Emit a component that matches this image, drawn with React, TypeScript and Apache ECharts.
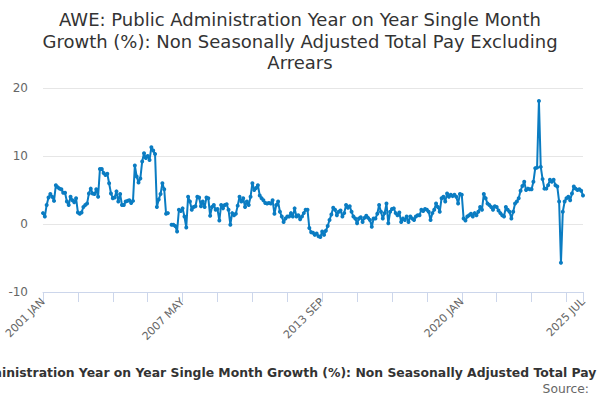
import React, { useEffect, useRef } from "react";
import * as echarts from "echarts";

const TITLE_LINES = [
  "AWE: Public Administration Year on Year Single Month",
  "Growth (%): Non Seasonally Adjusted Total Pay Excluding",
  "Arrears",
];
const SERIES_NAME =
  "AWE: Public Administration Year on Year Single Month Growth (%): Non Seasonally Adjusted Total Pay Excluding Arrears";
const SOURCE_TEXT = "Source:";

const MONTHS = ["JAN", "FEB", "MAR", "APR", "MAY", "JUN", "JUL", "AUG", "SEP", "OCT", "NOV", "DEC"];
const START_YEAR = 2001;

const values2001to2007: (number | null)[] = [
  1.6, 1.1, 2.8, 3.9, 4.4, 4.0, 3.4, 5.7, 5.4, 5.2, 5.1, 4.6,
  4.6, 3.3, 2.8, 4.0, 3.5, 3.2, 3.8, 1.7, 1.5, 1.7, 2.5, 2.8,
  3.0, 4.5, 5.2, 4.5, 4.4, 5.1, 4.0, 8.1, 8.1, 7.5, 7.2, 7.4,
  6.0, 4.5, 3.8, 3.9, 4.8, 3.3, 4.4, 2.8, 2.8, 3.3, 3.4, 3.5,
  3.1, 3.4, 8.6, 7.0, 6.1, 6.7, 9.2, 10.4, 9.7, 10.0, 9.4, 11.3,
  10.8, 10.3, 2.5, 3.6, 4.4, 6.0, 5.1, 1.5, 1.6, null, -0.1, -0.1,
];
const values2007to2013: (number | null)[] = [
  -0.3, -1.1, 2.1, 1.9, 2.3, 1.1, -0.5, 4.0, 3.3, 2.1, 2.5, 2.6,
  4.0, 3.9, 2.6, 3.3, 2.5, 3.9, 3.8, 1.2, 2.5, 2.8, 2.1, 2.2,
  0.5, 2.8, 2.3, 2.8, 2.9, 2.1, -0.1, 1.6, 1.3, 1.5, 2.7, 4.0,
  3.3, 3.8, 2.5, 3.3, 2.8, 4.0, 6.0, 5.0, 5.3, 5.7, 4.2, 3.8,
  3.5, 3.1, 3.0, 3.1, 3.0, 3.5, 1.5, 2.8, 3.3, 1.8, 1.1, 0.3,
  0.8, 1.1, 1.1, 1.6, 1.1, 2.3, 1.1, 1.3, 0.7, 1.1, 1.6, 2.1,
];
const values2013to2019: (number | null)[] = [
  2.1, -0.6, -1.2, -1.3, -1.6, -1.4, -1.8, -1.9, -1.1, -1.6, -1.0, -0.3,
  0.6, 1.4, 2.4, 2.1, 1.3, 1.8, 2.0, 1.1, 1.6, 2.8, 2.4, 2.6,
  1.8, 1.1, 0.8, 0.1, 0.8, 1.0, 0.3, 0.9, 1.2, 0.9, 0.6, -0.4,
  0.8, 0.8, 1.5, 2.8, 1.8, 0.8, 1.6, 3.0, 0.1, 1.8, 2.2, 2.3,
  1.6, 1.3, 1.7, 0.3, 0.8, 0.6, 1.1, 0.3, 1.1, 0.8, 0.6, 1.1,
  1.3, 1.3, 2.1, 1.9, 2.2, 2.1, 1.8, 0.6, 1.6, 2.1, 3.0, 2.5,
];
const values2019to2025: (number | null)[] = [
  1.8, 3.8, 4.0, 3.3, 4.5, 4.0, 4.3, 4.1, 4.3, 4.0, 3.0, 4.4,
  4.3, 0.8, 0.5, 1.1, 1.3, 1.5, 1.1, 1.6, 1.3, 1.8, 2.5, 2.1,
  4.4, 3.8, 3.0, 2.8, 2.5, 2.1, 2.6, 2.5, 2.0, 1.6, 1.3, 1.1,
  2.5, 2.1, 1.8, 0.8, 1.8, 3.0, 3.3, 3.8, 4.9, 5.6, 6.2, 5.0,
  5.2, 5.1, 5.1, 6.2, 8.2, 8.3, 18.1, 8.4, 6.6, 5.2, 5.2, 5.7,
  6.5, 6.2, 6.5, 5.7, 5.5, 3.3, -5.7, 1.8, 3.3, 3.8, 4.0, 3.5,
  4.5, 5.5, 5.2, 5.0, 5.1, 4.9, 4.2,
];

const growthValues = [
  ...values2001to2007,
  ...values2007to2013,
  ...values2013to2019,
  ...values2019to2025,
];

const categories: string[] = growthValues.map((_, i) => {
  const y = START_YEAR + Math.floor(i / 12);
  return `${y} ${MONTHS[i % 12]}`;
});

const Y_MIN = -10;
const Y_MAX = 20;
const Y_INTERVAL = 10;
const LABEL_STEP = 76;
const TICK_STEP = 19;

export default function App() {
  const ref = useRef<HTMLDivElement>(null);
  useEffect(() => {
    document.body.style.margin = "0";
    if (!ref.current) return;
    const chart = echarts.init(ref.current, undefined, { renderer: "svg" });
    const last = categories.length - 1;
    const font = "'DejaVu Sans', sans-serif";
    chart.setOption({
      animation: false,
      backgroundColor: "#ffffff",
      title: {
        text: TITLE_LINES.join("\n"),
        left: "center",
        top: 4,
        textStyle: {
          fontFamily: font,
          fontSize: 18,
          fontWeight: "normal",
          color: "#333333",
          lineHeight: 21.5,
        },
      },
      grid: { left: 43, right: 17, top: 88, bottom: 108, containLabel: false },
      xAxis: {
        type: "category",
        data: categories,
        boundaryGap: false,
        axisLine: { show: true, onZero: false, lineStyle: { color: "#ccd6eb", width: 1 } },
        axisTick: {
          show: true,
          length: 10,
          lineStyle: { color: "#ccd6eb" },
          interval: (i: number) => i % TICK_STEP === 0 || i === last,
        },
        axisLabel: {
          interval: (i: number) => i % LABEL_STEP === 0 || i === last,
          rotate: 45,
          color: "#666666",
          fontSize: 11,
          fontFamily: font,
          margin: 8,
          showMaxLabel: true,
        },
        splitLine: { show: false },
      },
      yAxis: {
        type: "value",
        min: Y_MIN,
        max: Y_MAX,
        interval: Y_INTERVAL,
        axisLine: { show: false },
        axisTick: { show: false },
        axisLabel: { color: "#666666", fontSize: 12, fontFamily: font, margin: 15 },
        splitLine: { lineStyle: { color: "#e6e6e6", width: 1 } },
      },
      series: [
        {
          name: SERIES_NAME,
          type: "line",
          data: growthValues,
          connectNulls: false,
          symbol: "circle",
          symbolSize: 4,
          showSymbol: true,
          showAllSymbol: true,
          itemStyle: { color: "#0a7cc2" },
          lineStyle: { color: "#0a7cc2", width: 2 },
        },
      ],
      graphic: [
        {
          type: "text",
          x: 304,
          y: 366,
          silent: true,
          style: {
            text: SERIES_NAME,
            fontFamily: font,
            fontSize: 12.4,
            fontWeight: "bold",
            fill: "#333333",
            align: "center",
            verticalAlign: "top",
          },
        },
        {
          type: "text",
          right: 11,
          top: 383,
          silent: true,
          style: {
            text: SOURCE_TEXT,
            fontFamily: font,
            fontSize: 12.3,
            fill: "#666666",
          },
        },
      ],
    });
    return () => chart.dispose();
  }, []);
  return <div ref={ref} style={{ width: 600, height: 400 }} />;
}
